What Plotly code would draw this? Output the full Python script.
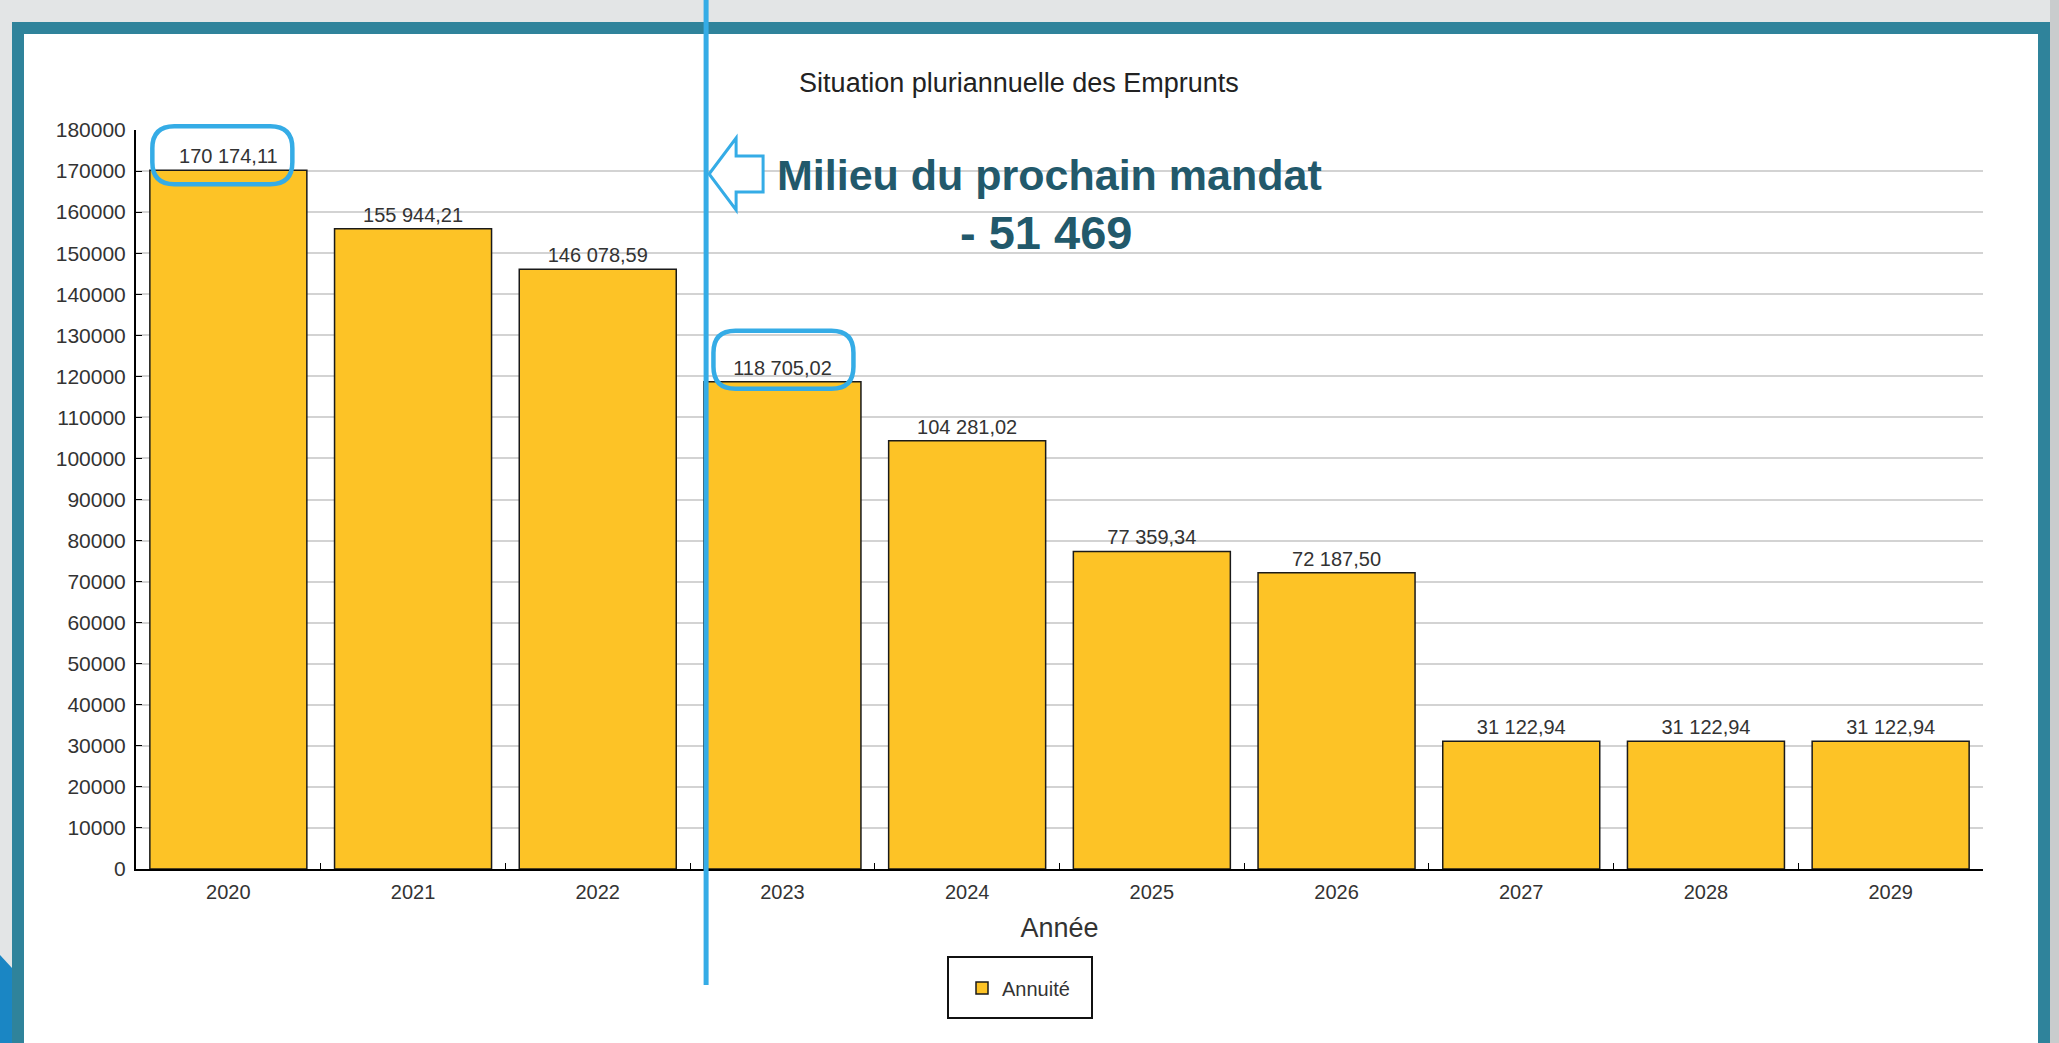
import plotly.graph_objects as go

# ---------------- data ----------------
years = ["2020", "2021", "2022", "2023", "2024", "2025", "2026", "2027", "2028", "2029"]
annuite = [170174.11, 155944.21, 146078.59, 118705.02, 104281.02,
           77359.34, 72187.50, 31122.94, 31122.94, 31122.94]
y_tick_values = list(range(0, 180001, 10000))
highlighted_years = ["2020", "2023"]
series_name = "Annuité"
chart_title = "Situation pluriannuelle des Emprunts"
x_title = "Année"
note_text = "Milieu du prochain mandat"


def fr_number(v, decimals=2):
    s = f"{v:,.{decimals}f}"
    return s.replace(",", " ").replace(".", ",")


labels = [fr_number(v) for v in annuite]
i0 = years.index(highlighted_years[0])
i1 = years.index(highlighted_years[1])
diff_text = "- " + fr_number(annuite[i0] - annuite[i1], 0)

# ---------------- geometry ----------------
W, H = 2059, 1043
L, R, T, B = 136, 76, 130, 174
PW, PH = W - L - R, H - T - B
YMAX = 180000
CAT_W = PW / len(years)

FONT = "Liberation Sans, Arial, sans-serif"
NOTE_FONT = "Liberation Sans, Arial, sans-serif"
TEAL = "#2f839b"
BLUE = "#35ace6"
NOTE_COLOR = "#22596b"


def px_x(px):
    return (px - L) / PW


def px_y(py):
    return (T + PH - py) / PH


def cat_px(i):
    return L + (i + 0.5) * CAT_W


def val_px(v):
    return T + PH * (1 - v / YMAX)


def path_from_px(cmds):
    out = []
    for c in cmds:
        if isinstance(c, str):
            out.append(c)
        else:
            out.append(f"{px_x(c[0]):.5f},{px_y(c[1]):.5f}")
    return " ".join(out)


def rounded_rect(x0, y0, x1, y1, r):
    return path_from_px([
        "M", (x0 + r, y0), "L", (x1 - r, y0), "Q", (x1, y0), (x1, y0 + r),
        "L", (x1, y1 - r), "Q", (x1, y1), (x1 - r, y1),
        "L", (x0 + r, y1), "Q", (x0, y1), (x0, y1 - r),
        "L", (x0, y0 + r), "Q", (x0, y0), (x0 + r, y0), "Z"])


fig = go.Figure()
fig.add_trace(go.Bar(
    x=years, y=annuite, name=series_name,
    text=labels, textposition="outside", cliponaxis=False,
    textfont=dict(family=FONT, size=20, color="#333333"),
    marker=dict(color="#FDC326", line=dict(color="#1a1a1a", width=1.5)),
    showlegend=True, hoverinfo="x+y",
))

shapes = []
# background frame
shapes.append(dict(type="rect", xref="paper", yref="paper",
                   x0=px_x(18), x1=px_x(2044), y0=px_y(28), y1=px_y(1049),
                   line=dict(color=TEAL, width=12), fillcolor="white", layer="below"))
shapes.append(dict(type="rect", xref="paper", yref="paper",
                   x0=px_x(2050), x1=px_x(2059), y0=px_y(0), y1=px_y(1043),
                   line=dict(width=0), fillcolor="#c9cccd", layer="below"))
shapes.append(dict(type="path", xref="paper", yref="paper",
                   path=path_from_px(["M", (0, 955), "L", (12, 968), "L", (12, 1043), "L", (0, 1043), "Z"]),
                   line=dict(width=0), fillcolor="#1a86c4", layer="below"))
# legend frame
shapes.append(dict(type="rect", xref="paper", yref="paper",
                   x0=px_x(948), x1=px_x(1092), y0=px_y(957), y1=px_y(1018),
                   line=dict(color="#111111", width=2), fillcolor="white", layer="below"))

# vertical marker line at the start of 2023
line_px = L + i1 * CAT_W + 16
shapes.append(dict(type="line", xref="paper", yref="paper",
                   x0=px_x(line_px), x1=px_x(line_px), y0=px_y(0), y1=px_y(985),
                   line=dict(color=BLUE, width=5), layer="above"))

# rounded highlight boxes around labels
for i in (i0, i1):
    cx = cat_px(i) - 6 if i == i0 else cat_px(i) + 1
    cy = val_px(annuite[i]) - (15 if i == i0 else 22)
    shapes.append(dict(type="path", xref="paper", yref="paper",
                       path=rounded_rect(cx - 70, cy - 29, cx + 70, cy + 29, 22),
                       line=dict(color=BLUE, width=4.5), layer="above"))

# hollow arrow pointing at the line
ax = line_px + 3
shapes.append(dict(type="path", xref="paper", yref="paper",
                   path=path_from_px(["M", (ax, 174), "L", (ax + 27, 138), "L", (ax + 27, 156),
                                      "L", (ax + 54, 156), "L", (ax + 54, 192), "L", (ax + 27, 192),
                                      "L", (ax + 27, 210), "Z"]),
                   line=dict(color=BLUE, width=3), fillcolor="white", layer="above"))

annotations = [
    dict(text=f"<b>{note_text}</b>", xref="paper", yref="paper",
         x=px_x(1049), y=px_y(175), xanchor="center", yanchor="middle", showarrow=False,
         font=dict(family=NOTE_FONT, size=43, color=NOTE_COLOR)),
    dict(text=f"<b>{diff_text}</b>", xref="paper", yref="paper",
         x=px_x(1046), y=px_y(232), xanchor="center", yanchor="middle", showarrow=False,
         font=dict(family=NOTE_FONT, size=47, color=NOTE_COLOR)),
]

fig.update_layout(
    width=W, height=H,
    margin=dict(l=L, r=R, t=T, b=B, autoexpand=False),
    paper_bgcolor="#e3e5e6", plot_bgcolor="white",
    font=dict(family=FONT, color="#333333"),
    bargap=0.15,
    showlegend=True,
    title=dict(text=chart_title, x=1019 / W, xanchor="center", y=1 - 83 / H, yanchor="middle",
               font=dict(family=FONT, size=27, color="#222222")),
    xaxis=dict(type="category", showline=True, linecolor="black", linewidth=2,
               ticks="inside", tickson="boundaries", ticklen=6, tickcolor="black",
               tickfont=dict(size=20, color="#333333"), ticklabelstandoff=4,
               showgrid=False, zeroline=False,
               title=dict(text=x_title, font=dict(size=27, color="#333333"), standoff=16)),
    yaxis=dict(range=[0, YMAX], tickvals=y_tick_values, tickformat="d",
               showline=True, linecolor="black", linewidth=2,
               ticks="inside", ticklen=6, tickcolor="black",
               tickfont=dict(size=21, color="#333333"), ticklabelstandoff=4,
               showgrid=True, gridcolor="#d3d3d3", gridwidth=1.5, zeroline=False),
    legend=dict(x=px_x(962), xanchor="left", y=px_y(988), yanchor="middle",
                orientation="h", borderwidth=0, bgcolor="rgba(0,0,0,0)",
                font=dict(size=20, color="#333333")),
    shapes=shapes,
    annotations=annotations,
)

fig.write_html("out.html", config={"displayModeBar": False},
               post_script="document.body.style.margin='0';document.body.style.overflow='hidden';")
